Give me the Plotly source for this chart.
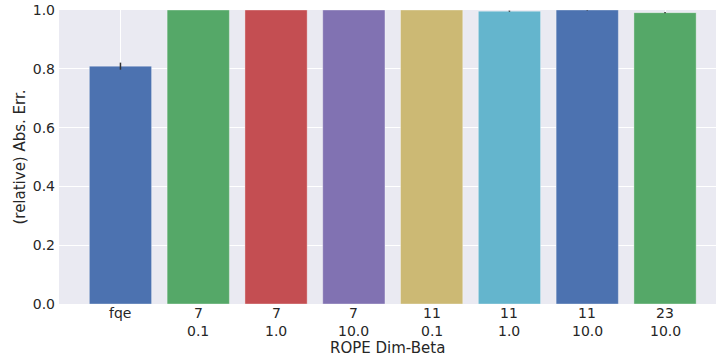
import plotly.graph_objects as go

# ROPE configurations (dimension, beta) compared against the fqe baseline
dim_labels = ["fqe", "7", "7", "7", "11", "11", "11", "23"]
beta_labels = ["", "0.1", "1.0", "10.0", "0.1", "1.0", "10.0", "10.0"]
abs_err = [0.809, 1.0, 1.0, 1.0, 1.0, 0.996, 1.0, 0.991]
err_ci = [0.012, 0.0, 0.0, 0.0, 0.0, 0.002, 0.002, 0.002]
bar_colors = ["#4C72B0", "#55A868", "#C44E52", "#8172B2", "#CCB974", "#64B5CD", "#4C72B0", "#55A868"]
y_ticks = [0.0, 0.2, 0.4, 0.6, 0.8, 1.0]

x_pos = list(range(len(dim_labels)))
text_color = "#262626"
font_family = "DejaVu Sans"

fig = go.Figure(
    go.Bar(
        x=x_pos,
        y=abs_err,
        width=0.8,
        marker=dict(color=bar_colors, line=dict(color="rgba(255,255,255,0.35)", width=1)),
        error_y=dict(type="data", array=err_ci, color="#333333", thickness=1.5, width=0),
        showlegend=False,
    )
)

# Two-line category labels (dimension on top, beta below) with tight line spacing
for x, dim, beta in zip(x_pos, dim_labels, beta_labels):
    fig.add_annotation(x=x, y=-0.031, xref="x", yref="paper", text=dim,
                       showarrow=False, xanchor="center", yanchor="middle")
    if beta:
        fig.add_annotation(x=x, y=-0.0905, xref="x", yref="paper", text=beta,
                           showarrow=False, xanchor="center", yanchor="middle")

fig.add_annotation(x=0.5, y=-0.1505, xref="paper", yref="paper", text="ROPE Dim-Beta",
                   showarrow=False, xanchor="center", yanchor="middle",
                   font=dict(size=15))

fig.update_layout(
    width=716,
    height=364,
    margin=dict(l=59, r=0, t=10, b=60),
    paper_bgcolor="white",
    plot_bgcolor="#EAEAF2",
    font=dict(family=font_family, size=14, color=text_color),
)
fig.update_xaxes(
    tickmode="array",
    tickvals=x_pos,
    showticklabels=False,
    range=[-0.79, 7.655],
    showgrid=True,
    gridcolor="white",
    gridwidth=1,
    zeroline=False,
    ticks="",
)
fig.update_yaxes(
    tickmode="array",
    tickvals=y_ticks,
    ticktext=[f"{v:.1f}" for v in y_ticks],
    range=[0, 1.0],
    showgrid=True,
    gridcolor="white",
    gridwidth=1,
    zeroline=False,
    ticks="",
    ticklabelstandoff=3,
    title=dict(text="(relative) Abs. Err.", font=dict(size=15), standoff=3),
)

fig.write_html("out.html")
